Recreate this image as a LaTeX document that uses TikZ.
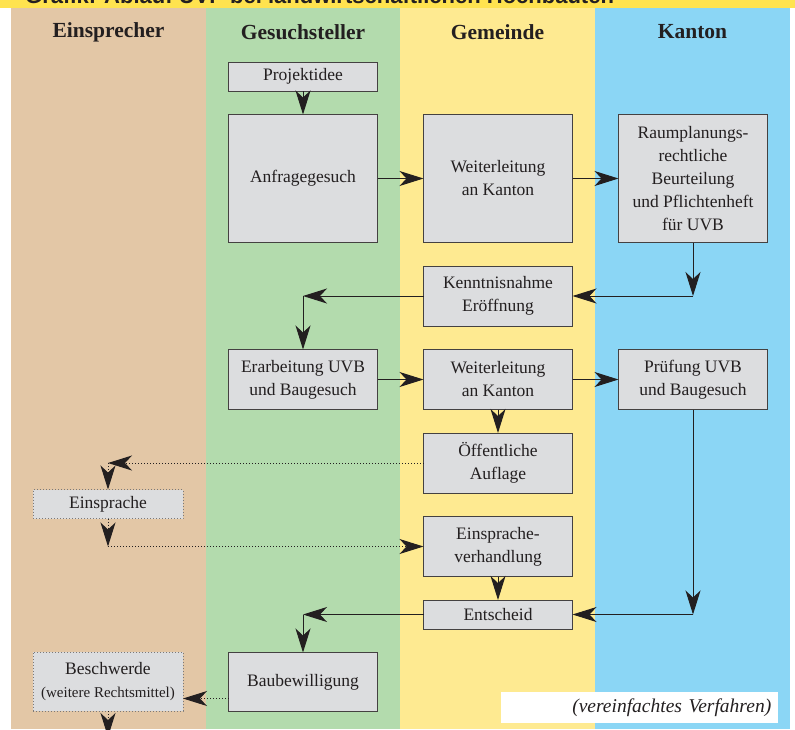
\documentclass[tikz,border=0pt]{standalone}
\usepackage{fontspec}
\setmainfont{Liberation Serif}
\newfontfamily\titlefont{Liberation Sans}
\usepackage{xcolor}
\usepackage{tikz}
\usetikzlibrary{arrows.meta,positioning}

\definecolor{laneTan}{HTML}{E3C7A6}
\definecolor{laneGreen}{HTML}{B3DBAD}
\definecolor{laneYellow}{HTML}{FEEA91}
\definecolor{laneBlue}{HTML}{8BD6F5}
\definecolor{stripYellow}{HTML}{FFE34F}
\definecolor{boxGray}{HTML}{DCDDDF}
\definecolor{ink}{HTML}{231F20}

\begin{document}
\begin{tikzpicture}[
  x=1pt, y=-1pt,
  box/.style={draw=ink!85, fill=boxGray, line width=1pt, align=center, text=ink, font=\fontsize{17.5}{23}\selectfont, minimum width=149pt, minimum height=29pt, inner sep=2pt, outer sep=0pt},
  dotbox/.style={box, draw=ink!60, dotted, minimum width=150pt},
  head/.style={text=ink, font=\fontsize{21.5}{24}\selectfont\bfseries},
  arr/.style={draw=ink, line width=1pt, -{Stealth[length=24pt,width=15pt,inset=7pt]}},
  darr/.style={arr, dotted},
  node distance=23.5pt and 46pt
]
\useasboundingbox (0,0) rectangle (795,729);
% lanes
\fill[stripYellow] (0,0) rectangle (795,8);
\node[anchor=base west, inner sep=0pt, text=ink, font=\titlefont\bfseries\fontsize{22}{24}\selectfont] (title) at (25,3.5) {Grafik: Ablauf UVP bei landwirtschaftlichen Hochbauten};
\fill[laneTan] (11,8) rectangle (206,729);
\fill[laneGreen] (206,8) rectangle (400,729);
\fill[laneYellow] (400,8) rectangle (595,729);
\fill[laneBlue] (595,8) rectangle (790,729);
\node[head] (hEin) at (108.5,32) {Einsprecher};
\node[head] (hGes) at (303,32) {Gesuchsteller};
\node[head] (hGem) at (497.5,32) {Gemeinde};
\node[head] (hKan) at (692.5,32) {Kanton};

% steps
\node[box] (proj) at (303,76.5) {Projektidee};
\node[box, minimum height=128pt, below=of proj] (anfrage) {Anfragegesuch};
\node[box, minimum height=128pt, right=of anfrage] (weiter1) {Weiterleitung\\an Kanton};
\node[box, minimum height=128pt, right=of weiter1] (raum) {Raumplanungs-\\rechtliche\\Beurteilung\\und Pflichtenheft\\für UVB};
\node[box, minimum height=60pt, below=of weiter1] (kennt) {Kenntnisnahme\\Eröffnung};
\node[box, minimum height=60pt, below=of kennt] (weiter2) {Weiterleitung\\an Kanton};
\node[box, minimum height=60pt, left=of weiter2] (erarb) {Erarbeitung UVB\\und Baugesuch};
\node[box, minimum height=60pt, right=of weiter2] (pruef) {Prüfung UVB\\und Baugesuch};
\node[box, minimum height=60pt, below=of weiter2] (oeff) {Öffentliche\\Auflage};
\node[box, minimum height=60pt, below=of oeff] (verh) {Einsprache-\\verhandlung};
\node[box, below=of verh] (entsch) {Entscheid};
\node[box, minimum height=59pt, below left=23.5pt and 46pt of entsch] (baubew) {Baubewilligung};
\node[dotbox] (einspr) at (108,504) {Einsprache};
\node[dotbox, minimum height=59pt] (beschw) at (108,681.5) {Beschwerde\\{\fontsize{15}{18}\selectfont(weitere Rechtsmittel)}};

\node[fill=white, anchor=north west, text width=263pt, align=right, inner xsep=7pt, inner ysep=0pt, minimum height=31pt, text=ink, font=\fontsize{19.5}{22}\selectfont\itshape] (note) at (501,692) {(vereinfachtes Verfahren)};

% connectors
\draw[arr] (proj) -- (anfrage);
\draw[arr] (anfrage) -- (weiter1);
\draw[arr] (weiter1) -- (raum);
\coordinate (kTurn) at (raum.south |- kennt.east);
\draw[arr] (raum) -- (kTurn);
\draw[arr] (kTurn) -- (kennt);
\coordinate (eTurn) at (erarb.north |- kennt.west);
\draw[arr] (kennt) -- (eTurn);
\draw[arr] (eTurn) -- (erarb);
\draw[arr] (erarb) -- (weiter2);
\draw[arr] (weiter2) -- (pruef);
\draw[arr] (weiter2) -- (oeff);
\coordinate (aTurn) at (einspr.north |- oeff.west);
\draw[darr] (oeff) -- (aTurn);
\draw[darr] (aTurn) -- (einspr);
\coordinate (vTurn) at (einspr.south |- verh.west);
\draw[darr] (einspr) -- (vTurn);
\draw[darr] (vTurn) -- (verh);
\draw[arr] (verh) -- (entsch);
\coordinate (pTurn) at (pruef.south |- entsch.east);
\draw[arr] (pruef) -- (pTurn);
\draw[arr] (pTurn) -- (entsch);
\coordinate (bTurn) at (baubew.north |- entsch.west);
\draw[arr] (entsch) -- (bTurn);
\draw[arr] (bTurn) -- (baubew);
\coordinate (wStart) at ([yshift=-16.5pt]baubew.west);
\draw[darr] (wStart) -- (wStart -| beschw.east);
\coordinate (rEnd) at (108,737);
\draw[darr] (beschw) -- (rEnd);
\end{tikzpicture}
\end{document}
